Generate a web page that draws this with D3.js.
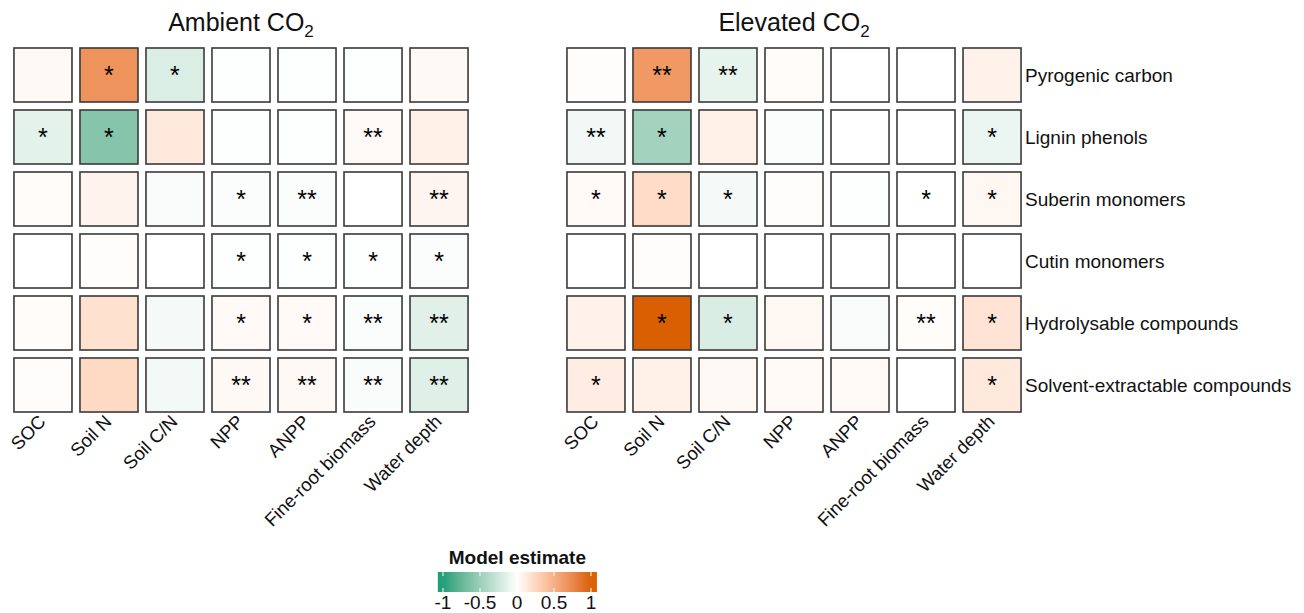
<!DOCTYPE html>
<html>
<head>
<meta charset="utf-8">
<script src="https://cdn.jsdelivr.net/npm/d3@7"></script>
<style>
  body { margin: 0; background: #fff; }
  text { font-family: "Liberation Sans", Arial, sans-serif; }
</style>
</head>
<body>
<div id="chart"></div>
<script>
var width = 1304,
  height = 613;

// predictors (columns) and compound classes (rows)
var predictors = ["SOC", "Soil N", "Soil C/N", "NPP", "ANPP", "Fine-root biomass", "Water depth"];
var compounds = [
  "Pyrogenic carbon",
  "Lignin phenols",
  "Suberin monomers",
  "Cutin monomers",
  "Hydrolysable compounds",
  "Solvent-extractable compounds",
];

// model estimates, one row per compound class
var ambientVals = [
  [0.04, 0.68, -0.18, -0.01, -0.01, -0.01, 0.04],
  [-0.14, -0.6, 0.14, -0.01, -0.01, 0.03, 0.09],
  [0.02, 0.07, -0.03, -0.02, -0.02, 0, 0.06],
  [0, 0.01, 0, -0.01, -0.01, -0.01, -0.02],
  [0.02, 0.19, -0.05, 0.03, 0.03, -0.02, -0.15],
  [0.01, 0.24, -0.06, 0.04, 0.04, -0.03, -0.16],
];
var ambientSig = [
  ["", "*", "*", "", "", "", ""],
  ["*", "*", "", "", "", "**", ""],
  ["", "", "", "*", "**", "", "**"],
  ["", "", "", "*", "*", "*", "*"],
  ["", "", "", "*", "*", "**", "**"],
  ["", "", "", "**", "**", "**", "**"],
];

var elevatedVals = [
  [0.01, 0.64, -0.12, 0.02, 0, 0, 0.08],
  [-0.07, -0.46, 0.09, -0.02, 0, 0, -0.1],
  [0.03, 0.22, -0.05, 0.01, -0.01, 0, 0.05],
  [0, 0.01, 0, 0, 0, 0, 0],
  [0.08, 1.0, -0.19, 0.05, -0.03, 0.02, 0.17],
  [0.11, 0.09, 0.04, 0.03, 0.03, 0, 0.14],
];
var elevatedSig = [
  ["", "**", "**", "", "", "", ""],
  ["**", "*", "", "", "", "", "*"],
  ["*", "*", "*", "", "", "*", "*"],
  ["", "", "", "", "", "", ""],
  ["", "*", "*", "", "", "**", "*"],
  ["*", "", "", "", "", "", "*"],
];

var legendTicks = [-1, -0.5, 0, 0.5, 1];
var legendLimits = [-1.07, 1.08];

var colorScale = d3
  .scaleLinear()
  .domain([-1, 0, 1])
  .range(["#1B9E77", "#FFFFFF", "#D95F02"])
  .interpolate(d3.interpolateLab)
  .clamp(true);

var svg = d3
  .select("#chart")
  .append("svg")
  .attr("width", width)
  .attr("height", height);

var yScale = d3
  .scaleBand()
  .domain(compounds)
  .range([44, 416])
  .paddingInner(0.129)
  .paddingOuter(0.0645);

function drawPanel(x0, x1, title, vals, sig, showRows) {
  var xScale = d3
    .scaleBand()
    .domain(predictors)
    .range([x0, x1])
    .paddingInner(0.121)
    .paddingOuter(0.06);

  var g = svg.append("g");

  // title with subscript
  var t = g
    .append("text")
    .attr("x", (x0 + x1) / 2)
    .attr("y", 31)
    .attr("text-anchor", "middle")
    .style("font-size", "25px")
    .style("fill", "#111");
  t.append("tspan").text(title + " CO");
  t.append("tspan").attr("dy", 6).style("font-size", "17px").text("2");

  var cells = [];
  vals.forEach(function (row, i) {
    row.forEach(function (v, j) {
      cells.push({ r: compounds[i], c: predictors[j], v: v, s: sig[i][j] });
    });
  });

  g.selectAll("rect.cell")
    .data(cells)
    .enter()
    .append("rect")
    .attr("class", "cell")
    .attr("x", function (d) { return xScale(d.c); })
    .attr("y", function (d) { return yScale(d.r); })
    .attr("width", xScale.bandwidth())
    .attr("height", yScale.bandwidth())
    .attr("fill", function (d) { return colorScale(d.v); })
    .attr("stroke", "#3a3a3a")
    .attr("stroke-width", 1.6);

  g.selectAll("text.star")
    .data(cells.filter(function (d) { return d.s; }))
    .enter()
    .append("text")
    .attr("class", "star")
    .attr("x", function (d) { return xScale(d.c) + xScale.bandwidth() / 2; })
    .attr("y", function (d) { return yScale(d.r) + yScale.bandwidth() / 2 + 9; })
    .attr("text-anchor", "middle")
    .style("font-size", "25px")
    .style("fill", "#000")
    .text(function (d) { return d.s; });

  // rotated column labels
  g.selectAll("text.xlab")
    .data(predictors)
    .enter()
    .append("text")
    .attr("class", "xlab")
    .attr("transform", function (d) {
      return "translate(" + (xScale(d) + xScale.bandwidth() / 2 - 6) + ",413) rotate(-45)";
    })
    .attr("text-anchor", "end")
    .attr("dy", "0.75em")
    .style("font-size", "18.5px")
    .style("fill", "#111")
    .text(function (d) { return d; });

  if (showRows) {
    g.selectAll("text.ylab")
      .data(compounds)
      .enter()
      .append("text")
      .attr("class", "ylab")
      .attr("x", x1)
      .attr("y", function (d) { return yScale(d) + yScale.bandwidth() / 2; })
      .attr("dy", "0.35em")
      .style("font-size", "19px")
      .style("fill", "#111")
      .text(function (d) { return d; });
  }
}

drawPanel(10, 472, "Ambient", ambientVals, ambientSig, false);
drawPanel(563, 1025, "Elevated", elevatedVals, elevatedSig, true);

// Legend: colour bar
var legScale = d3.scaleLinear().domain([-1, 1]).range([443, 591]);
var barX0 = legScale(legendLimits[0]),
  barX1 = legScale(legendLimits[1]),
  barY = 572,
  barH = 20;

var defs = svg.append("defs");
var grad = defs
  .append("linearGradient")
  .attr("id", "legGrad")
  .attr("x1", "0%")
  .attr("x2", "100%");
d3.range(0, 21).forEach(function (k) {
  var v = legendLimits[0] + (legendLimits[1] - legendLimits[0]) * (k / 20);
  grad.append("stop").attr("offset", (k * 5) + "%").attr("stop-color", colorScale(v));
});

svg
  .append("text")
  .attr("x", (barX0 + barX1) / 2)
  .attr("y", 564)
  .attr("text-anchor", "middle")
  .style("font-size", "19px")
  .style("font-weight", "bold")
  .style("fill", "#111")
  .text("Model estimate");

svg
  .append("rect")
  .attr("x", barX0)
  .attr("y", barY)
  .attr("width", barX1 - barX0)
  .attr("height", barH)
  .attr("fill", "url(#legGrad)");

legendTicks.forEach(function (tk) {
  var x = legScale(tk);
  svg.append("line")
    .attr("x1", x).attr("x2", x)
    .attr("y1", barY).attr("y2", barY + 4)
    .attr("stroke", "white").attr("stroke-width", 1);
  svg.append("line")
    .attr("x1", x).attr("x2", x)
    .attr("y1", barY + barH - 4).attr("y2", barY + barH)
    .attr("stroke", "white").attr("stroke-width", 1);
  svg.append("text")
    .attr("x", x)
    .attr("y", 609)
    .attr("text-anchor", "middle")
    .style("font-size", "19px")
    .style("fill", "#111")
    .text(tk);
});
</script>
</body>
</html>
